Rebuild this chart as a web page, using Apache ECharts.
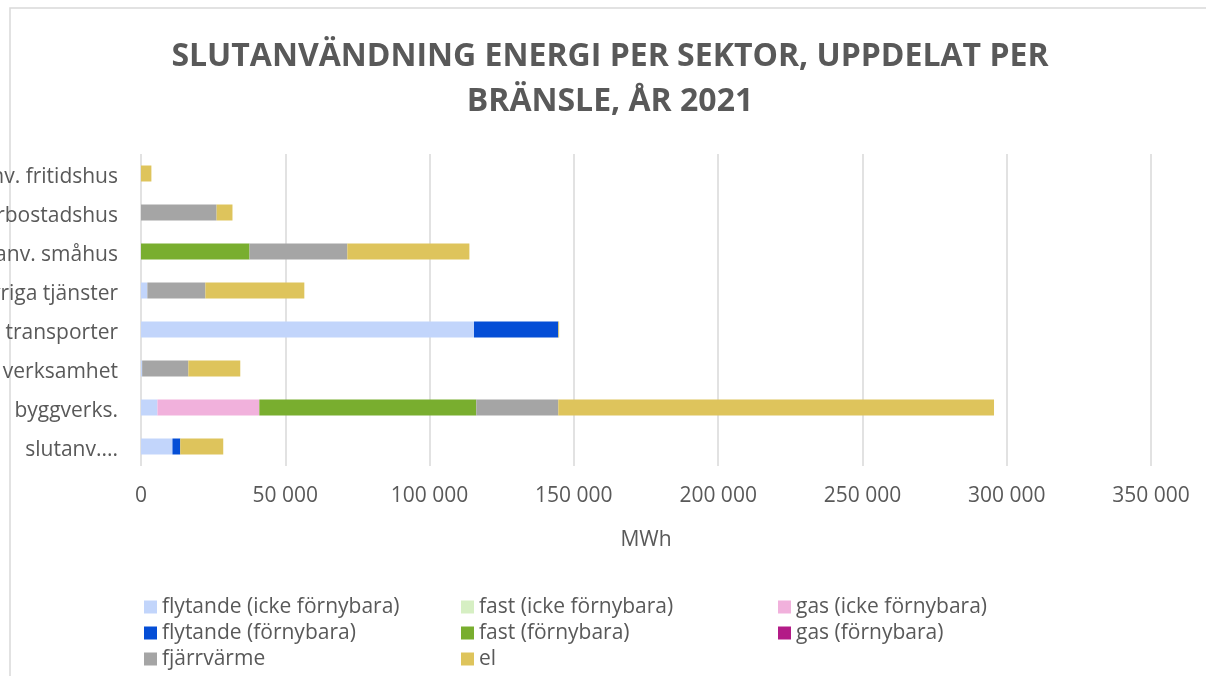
<!DOCTYPE html>
<html>
<head>
<meta charset="utf-8">
<title>Slutanvändning energi per sektor</title>
<script src="https://cdn.jsdelivr.net/npm/echarts@6/dist/echarts.min.js"></script>
<style>
    html, body { margin: 0; padding: 0; background: #fff; }
    #chart { width: 1206px; height: 676px; }
</style>
</head>
<body>
<div id="chart"></div>
<script>
// sektorer, nerifrån och upp (vänsterdelen av etiketterna klipps av kanten)
var sektorer = ['slutanv....', 'byggverks.', 'Offentlig verksamhet', 'transporter',
    'Övriga tjänster', 'Hushåll anv. småhus', 'Flerbostadshus', 'Hushåll anv. fritidshus'];

// MWh per bränsle
var flytandeIcke = [10900, 5700, 400, 115400, 2200, 0, 0, 0];
var fastIcke = [0, 0, 0, 0, 0, 0, 0, 0];
var gasIcke = [0, 35300, 0, 0, 0, 0, 0, 0];
var flytandeForn = [2700, 0, 0, 29200, 0, 0, 0, 0];
var fastForn = [0, 75200, 0, 0, 0, 37600, 0, 0];
var gasForn = [0, 0, 0, 0, 0, 0, 0, 0];
var fjarrvarme = [0, 28400, 16000, 0, 20100, 33900, 26200, 0];
var el = [14900, 151000, 18000, 300, 34300, 42300, 5500, 3600];

var xTicks = [0, 50000, 100000, 150000, 200000, 250000, 300000, 350000];

var grey = '#595959';

function serie(namn, data, farg) {
    return {
        name: namn,
        type: 'bar',
        stack: 'total',
        barWidth: 16,
        data: data,
        itemStyle: { color: farg }
    };
}

var chart = echarts.init(document.getElementById('chart'));

var option = {
    animation: false,
    textStyle: { fontFamily: 'Open Sans' },
    graphic: [
        {   // ramen runt diagrammet
            type: 'rect',
            shape: { x: 10, y: 8, width: 1400, height: 900 },
            style: { fill: 'none', stroke: '#d9d9d9', lineWidth: 1.5 },
            silent: true
        },
        {
            type: 'text', x: 610, y: 57,
            style: { text: 'SLUTANVÄNDNING ENERGI PER SEKTOR, UPPDELAT PER', fill: grey,
                font: 'bold 32px "Open Sans"', textAlign: 'center', textVerticalAlign: 'middle' }
        },
        {
            type: 'text', x: 610, y: 102,
            style: { text: 'BRÄNSLE, ÅR 2021', fill: grey,
                font: 'bold 32px "Open Sans"', textAlign: 'center', textVerticalAlign: 'middle' }
        }
    ],
    grid: { left: 141, right: 55, top: 154, bottom: 210, containLabel: false, outerBoundsMode: 'none' },
    legend: {
        left: 144, top: 594, width: 960, padding: 0,
        itemWidth: 13, itemHeight: 13, itemGap: 0,
        icon: 'rect',
        textStyle: { color: grey, fontSize: 21, width: 299, lineHeight: 26, fontFamily: 'Open Sans' }
    },
    xAxis: {
        type: 'value',
        min: xTicks[0],
        max: xTicks[xTicks.length - 1],
        interval: xTicks[1] - xTicks[0],
        name: 'MWh',
        nameLocation: 'middle',
        nameGap: 64,
        nameTextStyle: { color: grey, fontSize: 21 },
        axisLine: { show: false },
        axisTick: { show: false },
        axisLabel: {
            color: grey, fontSize: 21, margin: 20,
            formatter: function (v) { return String(v).replace(/\B(?=(\d{3})+(?!\d))/g, ' '); }
        },
        splitLine: { show: true, lineStyle: { color: '#d9d9d9', width: 1.5 } }
    },
    yAxis: {
        type: 'category',
        data: sektorer,
        axisLine: { show: false },
        axisTick: { show: false },
        axisLabel: {
            margin: 23,
            formatter: function (v) { return '{a|' + v + '}'; },
            rich: { a: { color: grey, fontSize: 21, fontFamily: 'Open Sans', padding: [8, 0, 0, 0] } }
        }
    },
    series: [
        serie('flytande (icke förnybara)', flytandeIcke, '#c2d5fb'),
        serie('fast (icke förnybara)', fastIcke, '#d6efc3'),
        serie('gas (icke förnybara)', gasIcke, '#f1b1dc'),
        serie('flytande (förnybara)', flytandeForn, '#054ed6'),
        serie('fast (förnybara)', fastForn, '#79ae2f'),
        serie('gas (förnybara)', gasForn, '#b31b87'),
        serie('fjärrvärme', fjarrvarme, '#a5a5a5'),
        serie('el', el, '#dec45c')
    ]
};

chart.setOption(option);
</script>
</body>
</html>
